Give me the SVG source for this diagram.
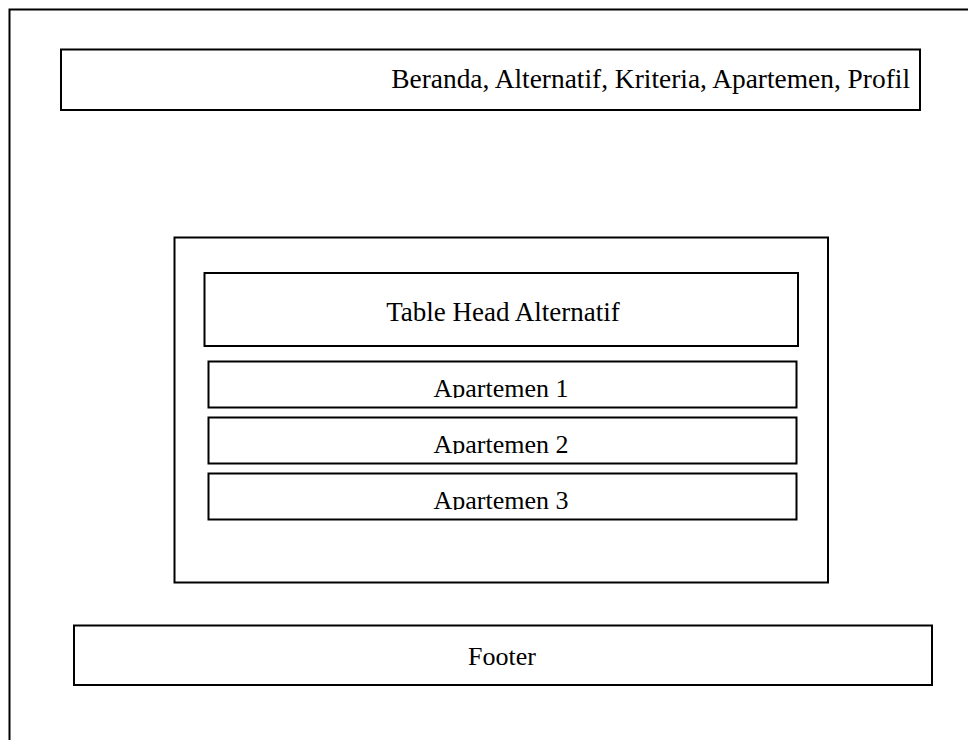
<svg xmlns="http://www.w3.org/2000/svg" width="968" height="740" viewBox="0 0 968 740">
<style>
.box{fill:#fff;stroke:#000;stroke-width:2}
.t{font-family:"Liberation Serif","Times New Roman",serif;font-size:26px;fill:#000}
.c{text-anchor:middle}
</style>
<defs>
<clipPath id="c1"><rect x="208" y="362" width="588" height="36"/></clipPath>
<clipPath id="c2"><rect x="208" y="418" width="588" height="36"/></clipPath>
<clipPath id="c3"><rect x="208" y="474" width="588" height="36"/></clipPath>
</defs>
<rect width="968" height="740" fill="#fff"/>
<g id="frame">
<path d="M9.5,740 V9.5 H968" fill="none" stroke="#000" stroke-width="2"/>
</g>
<g id="nav">
<rect class="box" x="61" y="49.5" width="859" height="60.5"/>
<text class="t" x="910" y="88" text-anchor="end" style="font-size:27.4px">Beranda, Alternatif, Kriteria, Apartemen, Profil</text>
</g>
<g id="container">
<rect class="box" x="174.5" y="237.5" width="653.5" height="345"/>
</g>
<g id="tablehead">
<rect class="box" x="204.5" y="273" width="593.5" height="73"/>
<text class="t c" x="503" y="321" style="font-size:27px">Table Head Alternatif</text>
</g>
<g id="row1">
<rect class="box" x="208.5" y="361.5" width="588" height="46"/>
<text class="t c" x="501" y="397" clip-path="url(#c1)">Apartemen 1</text>
</g>
<g id="row2">
<rect class="box" x="208.5" y="417.5" width="588" height="46"/>
<text class="t c" x="501" y="453" clip-path="url(#c2)">Apartemen 2</text>
</g>
<g id="row3">
<rect class="box" x="208.5" y="473.5" width="588" height="46"/>
<text class="t c" x="501" y="509" clip-path="url(#c3)">Apartemen 3</text>
</g>
<g id="footer">
<rect class="box" x="74" y="625.5" width="858" height="59.5"/>
<text class="t c" x="502" y="665">Footer</text>
</g>
<g id="connectors"></g>
</svg>
